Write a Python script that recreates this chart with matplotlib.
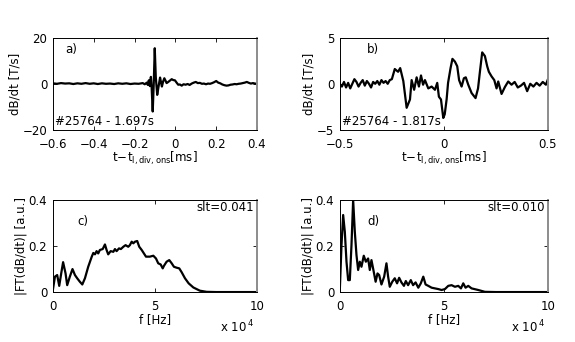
#!/usr/bin/env python
# -*- coding: utf-8 -*-
# dB/dt traces (a, b) and their spectra (c, d)

import matplotlib
matplotlib.use('Agg')
import matplotlib.pyplot as plt
from matplotlib.ticker import FuncFormatter

plt.rcParams['font.family'] = ['DejaVu Sans']
plt.rcParams['font.size'] = 8.5
plt.rcParams['mathtext.fontset'] = 'dejavusans'

# a) time [ms], dB/dt [T/s]
t_a = [-0.60, -0.58, -0.56, -0.54, -0.52, -0.50, -0.48, -0.46, -0.44, -0.42,
       -0.40, -0.38, -0.36, -0.34, -0.32, -0.30, -0.28, -0.26, -0.24, -0.22,
       -0.20, -0.18, -0.16, -0.15, -0.14, -0.135, -0.13, -0.125, -0.12, -0.116,
       -0.111, -0.106, -0.101, -0.096, -0.089, -0.082, -0.075, -0.070, -0.066, -0.060,
       -0.054, -0.048, -0.043, -0.035, -0.025, -0.018, -0.010, -0.002, 0.006, 0.014,
       0.022, 0.031, 0.04, 0.05, 0.06, 0.07, 0.08, 0.09, 0.10, 0.11,
       0.12, 0.13, 0.14, 0.15, 0.16, 0.17, 0.18, 0.19, 0.20, 0.21,
       0.22, 0.23, 0.24, 0.25, 0.26, 0.27, 0.28, 0.29, 0.30, 0.31,
       0.32, 0.33, 0.34, 0.35, 0.36, 0.37, 0.38, 0.39, 0.40]
v_a = [0.2, 0.0, 0.3, 0.1, 0.2, -0.1, 0.2, 0.0, 0.3, 0.0,
       0.2, -0.1, 0.2, 0.0, 0.1, -0.1, 0.2, 0.0, 0.2, -0.1,
       0.1, 0.0, 0.3, -0.2, 0.5, -0.5, 1.5, -1.0, 3.0, -2.0,
       -12.0, 0.0, 15.4, 3.0, -4.8, -1.0, 2.7, 0.5, -1.2, 1.0,
       2.4, 1.3, 0.3, 0.8, 1.5, 2.0, 1.6, 1.5, 0.5, -0.4,
       -0.3, -0.8, -0.2, -0.4, -0.1, -0.5, 0.1, 0.5, 0.8, 0.3,
       0.4, 0.0, 0.1, -0.2, 0.1, 0.0, 0.3, 0.7, 1.2, 0.5,
       0.2, -0.3, -0.6, -0.8, -0.7, -0.4, -0.3, -0.1, -0.2, 0.0,
       0.1, 0.3, 0.5, 0.8, 0.4, 0.1, 0.3, 0.1, 0.0]

# b) time [ms], dB/dt [T/s]
t_b = [-0.50, -0.49, -0.48, -0.47, -0.46, -0.45, -0.44, -0.43, -0.42, -0.41,
       -0.40, -0.39, -0.38, -0.37, -0.36, -0.35, -0.34, -0.33, -0.32, -0.31,
       -0.30, -0.29, -0.28, -0.27, -0.26, -0.25, -0.236, -0.22, -0.21, -0.195,
       -0.179, -0.163, -0.155, -0.143, -0.131, -0.12, -0.11, -0.10, -0.091, -0.075,
       -0.059, -0.043, -0.032, -0.024, -0.014, -0.003, 0.004, 0.013, 0.02, 0.032,
       0.041, 0.053, 0.064, 0.073, 0.085, 0.096, 0.105, 0.117, 0.133, 0.152,
       0.164, 0.173, 0.184, 0.197, 0.208, 0.216, 0.229, 0.242, 0.253, 0.261,
       0.277, 0.293, 0.309, 0.325, 0.34, 0.355, 0.37, 0.385, 0.40, 0.415,
       0.43, 0.445, 0.46, 0.475, 0.49, 0.50]
v_b = [0.0, -0.3, 0.2, -0.4, 0.1, -0.5, 0.0, 0.5, 0.2, -0.3,
       0.1, 0.4, -0.2, 0.3, 0.0, -0.4, 0.2, 0.0, 0.3, -0.1,
       0.4, 0.1, 0.3, 0.0, 0.4, 0.5, 1.6, 1.3, 1.7, 0.3,
       -2.6, -1.7, 0.4, -0.65, 0.7, -0.3, 0.9, -0.1, 0.4, -0.5,
       -0.3, -0.65, 0.1, -1.4, -1.7, -3.7, -3.3, -1.7, 0.1, 1.7,
       2.7, 2.4, 1.9, 0.4, -0.3, 0.6, 0.7, -0.1, -1.0, -1.55,
       -0.5, 1.3, 3.4, 3.0, 1.9, 1.3, 0.8, 0.4, -0.5, 0.25,
       -1.1, -0.35, 0.25, -0.1, 0.2, -0.4, -0.2, 0.1, -0.8, 0.0,
       -0.3, 0.1, -0.2, 0.2, -0.1, 0.5]

# c) spectrum of a
f_c = [0, 1000, 2100, 3100, 4200, 5000, 6200, 7000, 8300, 9600,
       10800, 11900, 13200, 14400, 15700, 17300, 19000, 19800, 20600, 21400,
       22200, 23000, 24400, 25500, 26300, 27100, 28300, 29600, 30400, 31200,
       32400, 33300, 34500, 35600, 36900, 37700, 38600, 39400, 40200, 41300,
       42300, 43500, 44300, 45600, 47500, 49200, 50500, 51600, 52800, 53800,
       54400, 55700, 57000, 58200, 59300, 60600, 61900, 63100, 64700, 66500,
       68800, 72000, 75300, 80000, 90000, 100000]
a_c = [0.01, 0.067, 0.074, 0.027, 0.088, 0.13, 0.081, 0.03, 0.067, 0.10,
       0.074, 0.06, 0.045, 0.033, 0.06, 0.11, 0.153, 0.17, 0.164, 0.178,
       0.168, 0.183, 0.187, 0.207, 0.183, 0.164, 0.178, 0.175, 0.187, 0.178,
       0.19, 0.187, 0.197, 0.204, 0.197, 0.204, 0.219, 0.212, 0.219, 0.222,
       0.197, 0.183, 0.172, 0.154, 0.154, 0.158, 0.146, 0.125, 0.12, 0.103,
       0.114, 0.132, 0.139, 0.125, 0.11, 0.106, 0.103, 0.086, 0.06, 0.038,
       0.02, 0.006, 0.001, 0.0, 0.0, 0.0]

# d) spectrum of b
f_d = [0, 800, 1600, 2400, 3200, 4000, 4800, 5600, 6400, 7200,
       8000, 8800, 9600, 10400, 11500, 12500, 13600, 14400, 15200, 16300,
       17200, 18100, 18900, 20000, 21300, 22400, 23200, 24000, 25200, 26400,
       27500, 28500, 29600, 30800, 31700, 32800, 34100, 35200, 36400, 37700,
       38900, 40100, 41200, 42500, 44100, 45700, 47300, 48900, 50500, 52100,
       53700, 55300, 56900, 58200, 59300, 60400, 61700, 63300, 66500, 69700,
       75000, 85000, 100000]
a_d = [0.01, 0.204, 0.335, 0.262, 0.132, 0.052, 0.052, 0.204, 0.40, 0.262,
       0.161, 0.096, 0.132, 0.11, 0.158, 0.132, 0.146, 0.096, 0.139, 0.088,
       0.045, 0.081, 0.074, 0.033, 0.067, 0.125, 0.067, 0.023, 0.045, 0.06,
       0.038, 0.062, 0.042, 0.027, 0.048, 0.03, 0.052, 0.03, 0.042, 0.019,
       0.038, 0.067, 0.033, 0.027, 0.019, 0.016, 0.013, 0.009, 0.013, 0.027,
       0.03, 0.023, 0.027, 0.016, 0.038, 0.019, 0.027, 0.016, 0.009, 0.001,
       0.0, 0.0, 0.0]

xlab_t = r'$\mathrm{t\!-\!t}_{\mathrm{l,div,ons}}$[ms]'
ylab_b = 'dB/dt [T/s]'
ylab_f = '|FT(dB/dt)| [a.u.]'


def style(ax):
    ax.tick_params(direction='in', length=3, width=0.6, top=True, right=True)
    ax.tick_params(axis='x', pad=6)
    ax.tick_params(axis='y', pad=4)
    for s in ax.spines.values():
        s.set_linewidth(0.7)
    ax.spines['right'].set_color('0.55')
    ax.spines['right'].set_linewidth(1.4)


fig = plt.figure(figsize=(5.75, 3.42), dpi=100)
ax_a = fig.add_axes([0.092, 0.620, 0.355, 0.270])
ax_b = fig.add_axes([0.591, 0.620, 0.362, 0.270])
ax_c = fig.add_axes([0.092, 0.146, 0.355, 0.269])
ax_d = fig.add_axes([0.591, 0.146, 0.362, 0.269])
for ax in [ax_a, ax_b, ax_c, ax_d]:
    style(ax)

# a)
ax_a.plot(t_a, v_a, color='k', lw=1.6)
ax_a.set_xlim(-0.6, 0.4)
ax_a.set_ylim(-20, 20)
ax_a.set_xticks([-0.6, -0.4, -0.2, 0, 0.2, 0.4])
ax_a.set_xticklabels(['\u22120.6', '\u22120.4', '\u22120.2', '0', '0.2', '0.4'])
ax_a.set_yticks([-20, 0, 20])
ax_a.set_yticklabels(['\u221220', '0', '20'])
ax_a.text(0.06, 0.87, 'a)', transform=ax_a.transAxes, va='center')
ax_a.text(0.01, 0.09, '#25764 - 1.697s', transform=ax_a.transAxes, va='center')
ax_a.set_ylabel(ylab_b, labelpad=1)
ax_a.set_xlabel(xlab_t, labelpad=-1)

# b)
ax_b.plot(t_b, v_b, color='k', lw=1.6)
ax_b.set_xlim(-0.5, 0.5)
ax_b.set_ylim(-5, 5)
ax_b.set_xticks([-0.5, 0, 0.5])
ax_b.set_xticklabels(['\u22120.5', '0', '0.5'])
ax_b.set_yticks([-5, 0, 5])
ax_b.set_yticklabels(['\u22125', '0', '5'])
ax_b.text(0.13, 0.87, 'b)', transform=ax_b.transAxes, va='center')
ax_b.text(0.01, 0.09, '#25764 - 1.817s', transform=ax_b.transAxes, va='center')
ax_b.set_ylabel(ylab_b, labelpad=1)
ax_b.set_xlabel(xlab_t, labelpad=-1)

# c) and d)
for ax, f, a, lab, slt in [(ax_c, f_c, a_c, 'c)', 'slt=0.041'),
                           (ax_d, f_d, a_d, 'd)', 'slt=0.010')]:
    ax.plot(f, a, color='k', lw=1.6)
    ax.set_xlim(0, 1e5)
    ax.set_ylim(0, 0.4)
    ax.set_xticks([0, 5e4, 1e5])
    ax.xaxis.set_major_formatter(FuncFormatter(lambda x, p: '%g' % (x / 1e4)))
    ax.set_yticks([0, 0.2, 0.4])
    ax.set_yticklabels(['0', '0.2', '0.4'])
    ax.text(0.12 if lab == 'c)' else 0.13, 0.77, lab, transform=ax.transAxes, va='center')
    ax.text(0.985, 0.92, slt, transform=ax.transAxes, ha='right', va='center')
    ax.text(0.82, -0.38, r'x 10$^{\,4}$', transform=ax.transAxes, va='center')
    ax.set_ylabel(ylab_f, labelpad=1)
    ax.set_xlabel('f [Hz]', labelpad=0)

fig.savefig('out.png', dpi=100)
